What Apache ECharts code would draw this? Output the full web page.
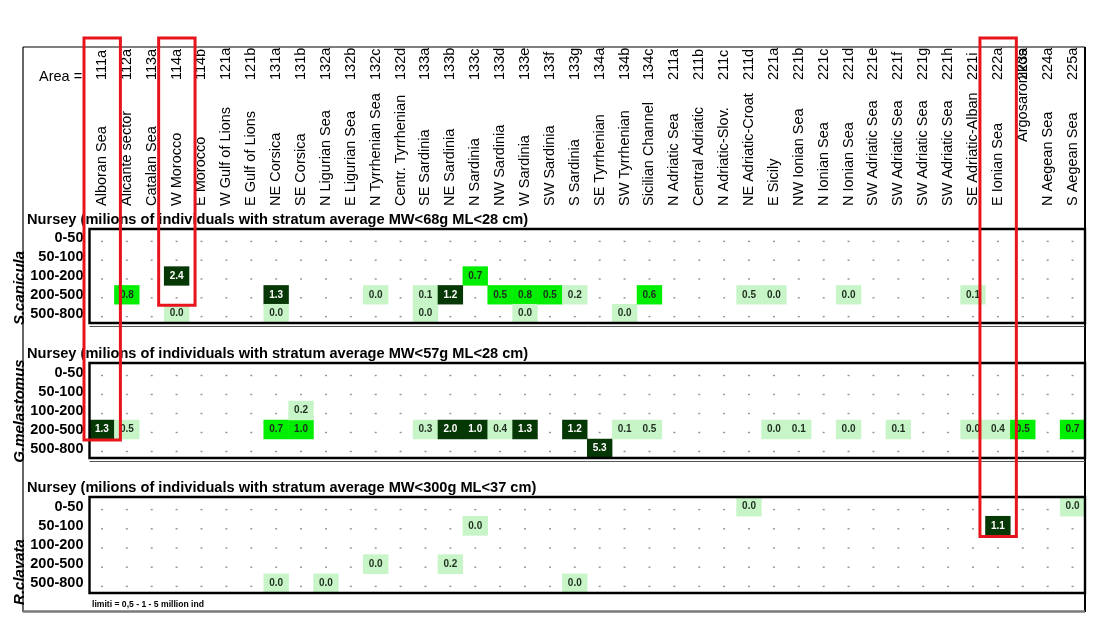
<!DOCTYPE html>
<html><head><meta charset="utf-8">
<script src="https://cdn.jsdelivr.net/npm/echarts@6/dist/echarts.min.js"></script>
<style>html,body{margin:0;padding:0;background:#fff}#c{width:1100px;height:635px}</style>
</head><body><div id="c"></div>
<script>
// ---------- data ----------
const codes = ['111a','112a','113a','114a','114b','121a','121b','131a','131b','132a','132b','132c','132d','133a','133b','133c','133d','133e','133f','133g','134a','134b','134c','211a','211b','211c','211d','221a','221b','221c','221d','221e','221f','221g','221h','221i','222a','223a','224a','225a'];
const names = ['Alboran Sea','Alicante sector','Catalan Sea','W Morocco','E Morocco','W Gulf of Lions','E Gulf of Lions','NE Corsica','SE Corsica','N Ligurian Sea','E Ligurian Sea','N Tyrrhenian Sea','Centr. Tyrrhenian','SE Sardinia','NE Sardinia','N Sardinia','NW Sardinia','W Sardinia','SW Sardinia','S Sardinia','SE Tyrrhenian','SW Tyrrhenian','Sicilian Channel','N Adriatic Sea','Central Adriatic','N Adriatic-Slov.','NE Adriatic-Croat','E Sicily','NW Ionian Sea','N Ionian Sea','N Ionian Sea','SW Adriatic Sea','SW Adriatic Sea','SW Adriatic Sea','SW Adriatic Sea','SE Adriatic-Alban','E Ionian Sea','Argosaronikos','N Aegean Sea','S Aegean Sea'];
const depths = ['0-50','50-100','100-200','200-500','500-800'];
const species = ['S.canicula','G.melastomus','R.clavata'];
const headings = [
  'Nursey (milions of individuals with stratum average MW<68g ML<28 cm)',
  'Nursey (milions of individuals with stratum average MW<57g ML<28 cm)',
  'Nursey (milions of individuals with stratum average MW<300g ML<37 cm)'
];
const areaLabel = 'Area =';
const limitsNote = 'limiti = 0,5 - 1 - 5 million ind';
const limits = [0.5, 1, 5];

// [area code, depth stratum, millions of individuals]
const sCanicula = [
  ['112a','200-500',0.8], ['114a','100-200',2.4], ['114a','500-800',0.0],
  ['131a','200-500',1.3], ['131a','500-800',0.0], ['132c','200-500',0.0],
  ['133a','200-500',0.1], ['133a','500-800',0.0], ['133b','200-500',1.2],
  ['133c','100-200',0.7], ['133d','200-500',0.52], ['133e','200-500',0.8],
  ['133e','500-800',0.0], ['133f','200-500',0.52], ['133g','200-500',0.2],
  ['134b','500-800',0.0], ['134c','200-500',0.6], ['211d','200-500',0.47],
  ['221a','200-500',0.0], ['221d','200-500',0.0], ['221i','200-500',0.1]
];
const gMelastomus = [
  ['111a','200-500',1.3], ['112a','200-500',0.47], ['131a','200-500',0.7],
  ['131b','200-500',0.96], ['131b','100-200',0.2], ['133a','200-500',0.3],
  ['133b','200-500',2.0], ['133c','200-500',1.02], ['133d','200-500',0.4],
  ['133e','200-500',1.3], ['133g','200-500',1.2], ['134a','500-800',5.3],
  ['134b','200-500',0.1], ['134c','200-500',0.47], ['221a','200-500',0.0],
  ['221b','200-500',0.1], ['221d','200-500',0.0], ['221f','200-500',0.1],
  ['221i','200-500',0.0], ['222a','200-500',0.4], ['223a','200-500',0.52],
  ['225a','200-500',0.7]
];
const rClavata = [
  ['131a','500-800',0.0], ['132a','500-800',0.0], ['132c','200-500',0.0],
  ['133b','200-500',0.2], ['133c','50-100',0.0], ['133g','500-800',0.0],
  ['211d','0-50',0.0], ['222a','50-100',1.1], ['225a','0-50',0.0]
];
// highlighted columns (red boxes): [area code, panel index, last depth stratum]
const highlights = [['111a',1,'200-500'], ['114a',0,'200-500'], ['222a',2,'50-100']];

// ---------- layout ----------
const FONT = "'Liberation Sans', Arial, sans-serif";
const panels = [sCanicula, gMelastomus, rClavata];
const gridTops = [229, 363, 497];
const gridHeights = [94, 95, 96];
const GL = 89.5, GR = 1085;
const colW = (GR - GL) / codes.length;

const grids = gridTops.map((t, i) => ({left: GL, right: 1100 - GR, top: t, height: gridHeights[i]}));

const xAxes = gridTops.map((t, i) => ({
  type: 'category', gridIndex: i, data: i === 0 ? names : codes,
  position: 'top',
  axisLine: {show: false}, axisTick: {show: false}, splitLine: {show: false},
  axisLabel: i === 0 ? {
    show: true, interval: 0, rotate: -90, margin: 23, color: '#000',
    fontFamily: FONT, fontSize: 14.5,
    formatter: v => v === 'Argosaronikos' ? '{up|' + v + '}' : v,
    rich: {up: {padding: [0, 0, 0, 64], fontFamily: FONT, fontSize: 14.5, color: '#000'}}
  } : {show: false}
}));
xAxes.push({
  type: 'category', gridIndex: 0, data: codes, position: 'top',
  axisLine: {show: false}, axisTick: {show: false}, splitLine: {show: false},
  axisLabel: {show: true, interval: 0, rotate: -90, margin: 149, color: '#000', fontFamily: FONT, fontSize: 14.5}
});

const yAxes = gridTops.map((t, i) => ({
  type: 'category', gridIndex: i, data: depths, inverse: true,
  axisLine: {show: false}, axisTick: {show: false}, splitLine: {show: false},
  axisLabel: {show: true, interval: 0, margin: 6, color: '#000', fontFamily: FONT, fontSize: 14.5, fontWeight: 'bold'}
}));

const series = [];
panels.forEach((p, i) => {
  series.push({
    type: 'heatmap', xAxisIndex: i, yAxisIndex: i,
    data: p.map(d => [codes.indexOf(d[0]), depths.indexOf(d[1]), d[2]]),
    label: {
      show: true,
      formatter: q => (q.value[2] >= limits[1] ? '{w|' : '{d|') + q.value[2].toFixed(1) + '}',
      rich: {
        w: {color: '#fff', fontSize: 10, fontWeight: 'bold', fontFamily: FONT},
        d: {color: '#1e2e1e', fontSize: 10, fontWeight: 'bold', fontFamily: FONT}
      }
    },
    itemStyle: {borderWidth: 0},
    emphasis: {disabled: true}, silent: true, z: 2
  });
});
panels.forEach((p, i) => {
  const filled = new Set(p.map(d => d[0] + '|' + d[1]));
  const dots = [];
  codes.forEach((c, xi) => depths.forEach((dp, yi) => {
    if (!filled.has(c + '|' + dp)) dots.push([xi, yi]);
  }));
  series.push({
    type: 'scatter', xAxisIndex: i, yAxisIndex: i, data: dots,
    symbol: 'rect', symbolSize: [2, 1.4], symbolOffset: [0, 3],
    itemStyle: {color: '#777'}, silent: true, z: 1, animation: false
  });
});

// ---------- decorations ----------
const graphic = [];
const line = (x1, y1, x2, y2, w, c) => graphic.push({type: 'line', z: 50, silent: true,
  shape: {x1, y1, x2, y2}, style: {stroke: c || '#000', lineWidth: w || 1}});
// outer frame
line(23, 47, GR, 47, 1.2);
line(23, 47, 23, 612, 1.2);
line(GR, 47, GR, 612, 2);
line(23, 611.5, GR, 611.5, 2.5, '#7a7a7a');
// panel boxes
gridTops.forEach((t, i) => {
  graphic.push({type: 'rect', z: 60, silent: true,
    shape: {x: GL, y: t, width: GR - GL, height: gridHeights[i]},
    style: {fill: null, stroke: '#000', lineWidth: 2.4}});
  if (i < 2) line(GL, t + gridHeights[i] + 3.5, GR, t + gridHeights[i] + 3.5, 1, '#555');
});
// headings
headings.forEach((h, i) => graphic.push({type: 'text', z: 70, silent: true, x: 27, y: gridTops[i] - 9,
  style: {text: h, font: 'bold 14.6px ' + FONT, fill: '#000', textVerticalAlign: 'middle'}}));
// species labels (read bottom to top)
const spY = [288, 411, 572];
species.forEach((s, i) => graphic.push({type: 'text', z: 70, silent: true, x: 20, y: spY[i], rotation: Math.PI / 2,
  style: {text: s, font: 'italic bold 15px ' + FONT, fill: '#000', textAlign: 'center', textVerticalAlign: 'middle'}}));
graphic.push({type: 'text', z: 70, silent: true, x: 39, y: 77,
  style: {text: areaLabel, font: '14.5px ' + FONT, fill: '#000', textVerticalAlign: 'middle'}});
graphic.push({type: 'text', z: 70, silent: true, x: 92, y: 605,
  style: {text: limitsNote, font: 'bold 8.6px ' + FONT, fill: '#000', textVerticalAlign: 'middle'}});
// red highlight boxes
const boxTop = 38;
highlights.forEach(h => {
  const ci = codes.indexOf(h[0]);
  const x = GL + ci * colW - 5.5;
  const bottom = gridTops[h[1]] + (depths.indexOf(h[2]) + 1) * gridHeights[h[1]] / depths.length + 1;
  graphic.push({type: 'rect', z: 90, silent: true,
    shape: {x: x, y: boxTop, width: colW + 11.5, height: bottom - boxTop},
    style: {fill: null, stroke: '#e8141b', lineWidth: 3}});
});

const chart = echarts.init(document.getElementById('c'), null, {renderer: 'canvas'});
chart.setOption({
  backgroundColor: '#fff',
  animation: false,
  textStyle: {fontFamily: FONT},
  grid: grids, xAxis: xAxes, yAxis: yAxes,
  visualMap: {
    show: false, type: 'piecewise', seriesIndex: [0, 1, 2], dimension: 2,
    pieces: [
      {min: 0, lt: limits[0], color: '#c8f5c8'},
      {gte: limits[0], lt: limits[1], color: '#00ee00'},
      {gte: limits[1], color: '#063806'}
    ]
  },
  series: series,
  graphic: graphic
});
</script></body></html>
